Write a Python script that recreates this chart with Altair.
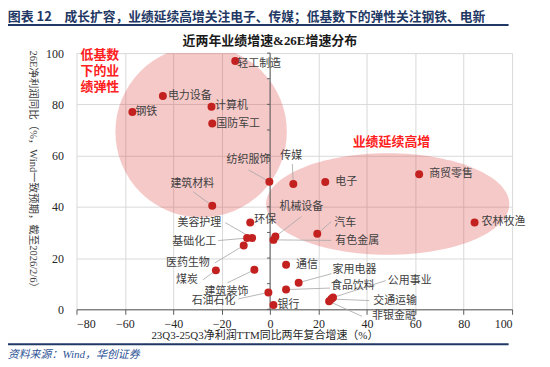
import altair as alt
import pandas as pd

# ---------------- data ----------------
sectors = ["轻工制造", "电力设备", "计算机", "钢铁", "国防军工", "纺织服饰", "传媒", "建筑材料",
           "环保", "电子", "商贸零售", "农林牧渔", "机械设备", "汽车", "有色金属", "美容护理",
           "基础化工", "医药生物", "煤炭", "建筑装饰", "石油石化", "银行", "通信", "家用电器",
           "食品饮料", "公用事业", "交通运输", "非银金融"]
growth_2y = [-14.4, -44.3, -24.2, -56.9, -23.9, -0.3, 9.6, -23.9,
             -8.2, 22.8, 61.6, 84.5, 2.2, 19.5, 1.4, -7.4,
             -9.5, -10.9, -22.4, -6.5, -0.7, 1.4, 6.6, 11.8,
             6.6, 26.0, 25.3, 24.4]
growth_26e = [96.9, 83.3, 79.1, 77.0, 72.5, 49.8, 48.9, 40.4,
              33.9, 49.7, 52.7, 33.9, 28.4, 29.5, 27.1, 27.8,
              27.8, 24.9, 15.2, 15.4, 6.6, 1.7, 17.4, 10.4,
              7.7, 4.6, 4.0, 3.1]
x_ticks = [-80, -60, -40, -20, 0, 20, 40, 60, 80, 100]
y_ticks = [0, 10, 20, 30, 40, 50, 60, 70, 80, 90, 100]

header_no = "图表 12"
header = "成长扩容，业绩延续高增关注电子、传媒；低基数下的弹性关注钢铁、电新"
chart_title = "近两年业绩增速&26E增速分布"
x_title = "23Q3-25Q3净利润TTM同比两年复合增速（%）"
y_title = "26E净利润同比（%，Wind一致预期，截至2026/2/6）"
source = "资料来源：Wind，华创证券"
zone1 = "低基数\n下的业\n绩弹性"
zone2 = "业绩延续高增"

# ---------------- layout (pixels) ----------------
W, H = 437, 257
PXX, PXY = W / 180.0, H / 100.0
# label offsets from point: (label dx, label dy, leader dx, leader dy)
label_off = {
    "轻工制造": (24, 3, None, None), "电力设备": (27, 0, None, None),
    "计算机": (20, -1, None, None), "钢铁": (14, 0, None, None),
    "国防军工": (26, 0, None, None), "纺织服饰": (-21, -22, -21, -12),
    "传媒": (-2, -28, -1, -20), "建筑材料": (-20, -22, -19, -14),
    "环保": (15, -2, None, None), "电子": (21, 0, None, None),
    "商贸零售": (32, 0, None, None), "农林牧渔": (29, 0, None, None),
    "机械设备": (26, -30, 26, -20), "汽车": (28, -11, 14, -12),
    "有色金属": (84, 1.5, 58, 0.5), "美容护理": (-53, -15.5, -27, -15.5),
    "基础化工": (-53, 3.5, -29, 2.5), "医药生物": (-56, 17.5, -29, 17.5),
    "煤炭": (-29, 9.5, -13, 9.5), "建筑装饰": (-28, 22.5, -27, 13),
    "石油石化": (-55, 9, -30, 6.5), "银行": (15, 0, None, None),
    "通信": (21, 0, None, None), "家用电器": (56, -12.5, 33, -9),
    "食品饮料": (67, -4, 44, -1.5), "公用事业": (77, -17, 53, -17),
    "交通运输": (64, 1.5, 38, 1.5), "非银金融": (65, 15, 33, 15),
}

rows = []
for n, gx, gy in zip(sectors, growth_2y, growth_26e):
    ldx, ldy, ax, ay = label_off[n]
    r = {"name": n, "x": gx, "y": gy,
         "lx": gx + ldx / PXX, "ly": gy - ldy / PXY}
    if ax is not None:
        r["ax"] = gx + ax / PXX
        r["ay"] = gy - ay / PXY
    rows.append(r)
df = pd.DataFrame(rows)
lead_df = df.dropna(subset=["ax"])

CJK = "Noto Sans CJK SC"
SERIF = "Liberation Serif"
MIX = "Liberation Serif, Noto Sans CJK SC"

xs = alt.Scale(domain=[-80, 100], nice=False, zero=False)
ys = alt.Scale(domain=[0, 100], nice=False, zero=False)

one = pd.DataFrame({"a": [0]})

# highlight zones (centers in data units, sizes in px)
zone_df = pd.DataFrame({"x": [-28.5], "y": [69.3]})
ell_df = pd.DataFrame({"x": [48.6], "y": [41.1]})
ell_path = ("M -1 0 C -1 -0.2309 -0.5523 -0.418 0 -0.418 C 0.5523 -0.418 1 -0.2309 1 0 "
            "C 1 0.2309 0.5523 0.418 0 0.418 C -0.5523 0.418 -1 0.2309 -1 0 Z")

circle_zone = alt.Chart(zone_df).mark_circle(
    color="#E03C3C", opacity=0.28, clip=True
).encode(
    x=alt.X("x:Q", scale=xs, axis=alt.Axis(values=x_ticks, grid=True, gridColor="#D9D9D9",
                                          domainColor="#595959", tickColor="#595959", tickSize=5,
                                          labelPadding=4, labelFont=SERIF, labelFontSize=12,
                                          labelColor="#262626", title=None)),
    y=alt.Y("y:Q", scale=ys, axis=alt.Axis(values=y_ticks, grid=True, gridColor="#D9D9D9",
                                          domain=False, ticks=False, labelPadding=13,
                                          labelFont=SERIF, labelFontSize=12,
                                          labelColor="#262626", title=None)),
    size=alt.value(29584),
)

ellipse_zone = alt.Chart(ell_df).mark_point(
    shape=ell_path, filled=True, color="#E03C3C", opacity=0.28, strokeWidth=0
).encode(
    x=alt.X("x:Q", scale=xs), y=alt.Y("y:Q", scale=ys), size=alt.value(59536)
)

yaxis_line = alt.Chart(one).mark_rule(color="#595959", strokeWidth=1).encode(
    x=alt.datum(0, scale=xs), y=alt.datum(0, scale=ys), y2=alt.datum(100)
)
ytick_df = pd.DataFrame({"t": y_ticks})
yaxis_ticks = alt.Chart(ytick_df).mark_rule(color="#595959", strokeWidth=1).encode(
    x=alt.datum(0, scale=xs), x2=alt.datum(-3 / PXX), y=alt.Y("t:Q", scale=ys)
)

leaders = alt.Chart(lead_df).mark_rule(color="#A6A6A6", strokeWidth=0.8).encode(
    x=alt.X("x:Q", scale=xs), y=alt.Y("y:Q", scale=ys), x2="ax:Q", y2="ay:Q"
)

points = alt.Chart(df).mark_circle(size=64, color="#C3211F", opacity=1).encode(
    x=alt.X("x:Q", scale=xs), y=alt.Y("y:Q", scale=ys)
)

labels = alt.Chart(df).mark_text(font=CJK, fontSize=11, color="#404040").encode(
    x=alt.X("lx:Q", scale=xs), y=alt.Y("ly:Q", scale=ys), text="name:N"
)


def txt(s, x, y, **kw):
    return alt.Chart(one).mark_text(**kw).encode(
        x=alt.value(x), y=alt.value(y), text=alt.value(s))


ann = [
    txt(header_no, -69, -36.5, font=CJK, fontSize=13, fontWeight="bold", color="#1F3864", align="left"),
    txt(header, -12, -36.5, font=CJK, fontSize=12.8, fontWeight="bold", color="#1F3864", align="left"),
    txt(chart_title, 194, -12, font=MIX, fontSize=13, fontWeight="bold", color="#1A1A1A"),
    txt(zone1, 4, 1.5, font=CJK, fontSize=13, fontWeight="bold", color="#FF2020", align="left",
        lineBreak="\n", lineHeight=16.3),
    txt(zone2, 316, 89, font=CJK, fontSize=13, fontWeight="bold", color="#FF2020"),
    txt(x_title, 189, 284, font=MIX, fontSize=11, color="#262626"),
    txt(y_title, -44, 119, font=MIX, fontSize=10.5, color="#404040", angle=90),
    txt(source, -69, 302.5, font=MIX, fontSize=11, fontStyle="italic", color="#2F5597", align="left"),
]

hline_top = alt.Chart(one).mark_rule(color="#1F3864", strokeWidth=2).encode(
    x=alt.value(-70.5), x2=alt.value(433.5), y=alt.value(-28.2))
hline_bot = alt.Chart(one).mark_rule(color="#1F3864", strokeWidth=2).encode(
    x=alt.value(-70.5), x2=alt.value(433.5), y=alt.value(292))

chart = alt.layer(
    circle_zone, ellipse_zone, yaxis_line, yaxis_ticks, leaders, points, labels,
    hline_top, hline_bot, *ann
).properties(
    width=W, height=H,
    autosize=alt.AutoSizeParams(type="none"),
    padding={"left": 68.7, "top": 44.7, "right": 30, "bottom": 56},
).configure_view(stroke=None)

chart.save("out.html", embed_options={"renderer": "svg", "actions": False})
